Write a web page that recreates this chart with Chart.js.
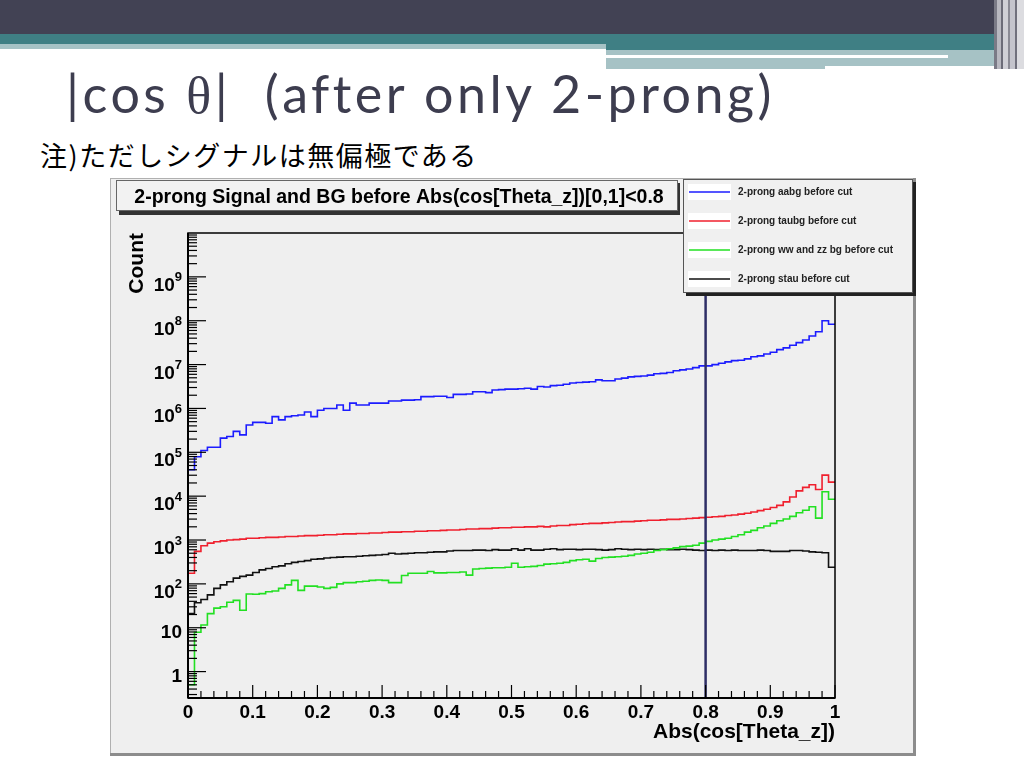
<!DOCTYPE html>
<html>
<head>
<meta charset="utf-8">
<script src="https://cdn.jsdelivr.net/npm/chart.js@4.4.1/dist/chart.umd.min.js"></script>
<style>
  body { margin: 0; width: 1024px; height: 768px; background: #fff; position: relative; overflow: hidden; }
  .deco { position: absolute; }
  .title {
    position: absolute; left: 66px; top: 63px; margin: 0;
    font-family: Lato, "Open Sans", sans-serif; font-weight: normal; font-size: 52px; line-height: 60px;
    letter-spacing: 3.5px; color: #3d3d4f; white-space: pre;
  }
  .title .th { font-family: "Liberation Serif", "DejaVu Serif", serif; }
  .note {
    position: absolute; left: 40px; top: 140px; margin: 0;
    font-family: "Noto Sans CJK JP", sans-serif; font-size: 27px; line-height: 30px;
    letter-spacing: 1.5px; color: #000;
  }
  #wrap { position: absolute; left: 110px; top: 178px; width: 806px; height: 578px; }
</style>
</head>
<body>
<div class="deco" style="left:0;top:0;width:1024px;height:34px;background:#424254"></div>
<div class="deco" style="left:0;top:34px;width:1024px;height:10px;background:#3f7f84"></div>
<div class="deco" style="left:0;top:44px;width:606px;height:5px;background:#a6c2c5"></div>
<div class="deco" style="left:606px;top:44px;width:418px;height:6px;background:#3f7f84"></div>
<div class="deco" style="left:606px;top:50px;width:400px;height:16px;background:#a6c2c5"></div>
<div class="deco" style="left:606px;top:55px;width:342px;height:3px;background:#fff"></div>
<div class="deco" style="left:606px;top:66px;width:219px;height:3px;background:#a6c2c5"></div>
<div class="deco" style="left:994px;top:0;width:30px;height:69px;background:linear-gradient(90deg,#7a7a86 0,#7a7a86 3px,#b8b8c0 3px,#b8b8c0 7px,#6c6c78 7px,#6c6c78 9px,#d0d0d6 9px,#d0d0d6 14px,#8a8a94 14px,#8a8a94 16px,#c4c4cc 16px,#c4c4cc 21px,#70707c 21px,#70707c 23px,#dcdce0 23px)"></div>

<h1 class="title">|cos <span class="th">θ</span>|  (after only 2-prong)</h1>
<p class="note">注)ただしシグナルは無偏極である</p>
<div id="wrap"><canvas id="hist" width="806" height="578"></canvas></div>

<script>
// histogram: 100 bins of |cos(theta_z)| from 0 to 1
const binWidth = 0.01;
const binEdges = Array.from({ length: 101 }, (_, i) => i * binWidth);

const aabgCounts = [
  4.0e4, 7.9e4, 1.1e5, 1.3e5, 1.3e5, 2.1e5, 2.3e5, 3.0e5, 2.5e5, 4.2e5,
  4.8e5, 4.8e5, 4.6e5, 6.5e5, 5.5e5, 6.5e5, 6.8e5, 7.1e5, 8.3e5, 6.5e5,
  9.1e5, 1.0e6, 1.0e6, 1.2e6, 9.1e5, 1.32e6, 1.2e6, 1.2e6, 1.32e6, 1.32e6,
  1.32e6, 1.48e6, 1.48e6, 1.55e6, 1.55e6, 1.58e6, 1.86e6, 1.86e6, 1.9e6, 1.9e6,
  1.78e6, 2.09e6, 2.09e6, 2.14e6, 2.4e6, 2.4e6, 2.29e6, 2.63e6, 2.69e6, 2.75e6,
  2.75e6, 2.82e6, 2.88e6, 2.75e6, 3.16e6, 3.09e6, 3.31e6, 3.39e6, 3.55e6, 3.8e6,
  3.89e6, 3.98e6, 4.07e6, 4.47e6, 4.27e6, 4.27e6, 4.68e6, 4.9e6, 5.25e6, 5.37e6,
  5.5e6, 5.75e6, 6.17e6, 6.31e6, 6.61e6, 7.24e6, 7.59e6, 7.94e6, 8.51e6, 9.33e6,
  9.33e6, 1.0e7, 1.07e7, 1.15e7, 1.23e7, 1.26e7, 1.35e7, 1.51e7, 1.58e7, 1.74e7,
  1.91e7, 2.19e7, 2.4e7, 2.75e7, 3.16e7, 3.63e7, 4.47e7, 5.62e7, 1.0e8, 8.3e7
];
const taubgCounts = [
  174, 550, 741, 851, 912, 955, 1000, 1023, 1047, 1096,
  1096, 1122, 1148, 1148, 1175, 1202, 1202, 1230, 1259, 1259,
  1288, 1318, 1318, 1349, 1380, 1380, 1413, 1413, 1445, 1445,
  1479, 1514, 1514, 1549, 1549, 1585, 1585, 1622, 1622, 1660,
  1698, 1698, 1738, 1778, 1778, 1820, 1820, 1862, 1905, 1905,
  1950, 1950, 1995, 1995, 2042, 1995, 2089, 2138, 2138, 2239,
  2291, 2344, 2399, 2399, 2455, 2512, 2570, 2630, 2630, 2692,
  2754, 2818, 2818, 2884, 2951, 2951, 3020, 3090, 3162, 3236,
  3311, 3388, 3467, 3631, 3715, 3890, 4074, 4365, 4677, 5012,
  5495, 6166, 7413, 9550, 13180, 15850, 18200, 14130, 30200, 20890
];
const wwzzCounts = [
  0.5, 7.9, 11.5, 21, 28, 30, 38, 42, 25, 59,
  58, 60, 66, 69, 79, 95, 120, 71, 89, 89,
  85, 79, 83, 100, 107, 107, 112, 115, 120, 123,
  120, 107, 107, 155, 174, 174, 174, 191, 178, 178,
  182, 182, 186, 158, 219, 224, 229, 234, 234, 240,
  295, 240, 245, 251, 263, 282, 288, 295, 309, 339,
  355, 363, 331, 380, 398, 407, 417, 427, 447, 479,
  501, 525, 575, 603, 631, 661, 708, 724, 759, 851,
  933, 1000, 1047, 1096, 1202, 1318, 1514, 1660, 1905, 2089,
  2399, 2754, 3020, 3467, 4169, 4786, 5754, 3162, 12590, 8511
];
const stauCounts = [
  21, 37, 44, 56, 79, 95, 112, 135, 148, 158,
  182, 209, 224, 245, 257, 288, 309, 324, 339, 363,
  372, 389, 398, 407, 417, 417, 427, 437, 447, 457,
  468, 501, 479, 490, 501, 513, 513, 525, 537, 537,
  562, 575, 575, 575, 589, 589, 575, 603, 589, 589,
  631, 589, 631, 589, 589, 617, 631, 603, 617, 617,
  603, 617, 617, 603, 589, 603, 631, 617, 603, 617,
  603, 617, 603, 617, 603, 603, 617, 603, 589, 575,
  589, 575, 589, 575, 589, 575, 575, 575, 589, 575,
  550, 550, 550, 575, 575, 562, 537, 525, 513, 240
];

const seriesNames = [
  '2-prong aabg before cut',
  '2-prong taubg before cut',
  '2-prong ww and zz bg before cut',
  '2-prong stau before cut'
];
const seriesColors = ['#1c1cff', '#f0202e', '#22e022', '#111111'];

const xTickValues = [0, 0.1, 0.2, 0.3, 0.4, 0.5, 0.6, 0.7, 0.8, 0.9, 1];
const xTickLabels = ['0', '0.1', '0.2', '0.3', '0.4', '0.5', '0.6', '0.7', '0.8', '0.9', '1'];
const yTickPowers = [0, 1, 2, 3, 4, 5, 6, 7, 8, 9];
const yMin = 0.25;
const yMax = 1e10;
const cutValue = 0.8;

const histTitle = '2-prong Signal and BG before Abs(cos[Theta_z])[0,1]<0.8';
const xTitle = 'Abs(cos[Theta_z])';
const yTitle = 'Count';

const FONT = '"Liberation Sans", Arial, Helvetica, sans-serif';

// step outline: value of bin i from its low edge to the next edge
function histPoints(counts) {
  const pts = counts.map((c, i) => ({ x: binEdges[i], y: c }));
  pts.push({ x: binEdges[counts.length], y: counts[counts.length - 1] });
  return pts;
}

function hLine(ctx, x1, y1, x2, y2) {
  ctx.beginPath();
  ctx.moveTo(x1, y1);
  ctx.lineTo(x2, y2);
  ctx.stroke();
}

const rootStyle = {
  id: 'rootStyle',
  beforeDraw(chart) {
    const { ctx, width, height } = chart;
    ctx.save();
    ctx.fillStyle = '#efefef';
    ctx.fillRect(0, 0, width, height);
    ctx.fillStyle = '#b0b0b0';
    ctx.fillRect(0, 0, width, 1);
    ctx.fillRect(0, 0, 1, height);
    ctx.fillStyle = '#8c8c8c';
    ctx.fillRect(width - 3, 0, 3, height);
    ctx.fillRect(0, height - 3, width, 3);
    ctx.restore();
  },
  afterDatasetsDraw(chart) {
    const { ctx, chartArea: a, scales: { x, y } } = chart;
    ctx.save();

    // cut position
    const cx = x.getPixelForValue(cutValue);
    ctx.strokeStyle = '#2e2e66';
    ctx.lineWidth = 2.5;
    hLine(ctx, cx, a.top, cx, a.bottom);

    // frame
    ctx.strokeStyle = '#000';
    ctx.lineWidth = 1.5;
    ctx.strokeRect(a.left, a.top, a.right - a.left, a.bottom - a.top);
    ctx.lineWidth = 2;
    hLine(ctx, a.left, a.top, a.left, a.bottom);
    hLine(ctx, a.left, a.bottom, a.right, a.bottom);

    // x ticks, major every 0.1 and minor every 0.02
    ctx.lineWidth = 1.2;
    for (let k = 0; k <= 50; k++) {
      const px = x.getPixelForValue(k / 50);
      hLine(ctx, px, a.bottom, px, a.bottom - (k % 5 === 0 ? 13 : 7));
    }

    // y ticks, log decades
    for (let d = -1; d <= 9; d++) {
      for (let m = 1; m <= 9; m++) {
        const v = m * Math.pow(10, d);
        if (v < y.min || v > y.max) continue;
        const py = y.getPixelForValue(v);
        hLine(ctx, a.left, py, a.left + (m === 1 ? 18 : 9), py);
      }
    }

    // y labels with raised exponents
    ctx.fillStyle = '#000';
    ctx.textBaseline = 'alphabetic';
    const right = a.left - 6;
    yTickPowers.forEach(p => {
      const py = y.getPixelForValue(Math.pow(10, p));
      if (p < 2) {
        ctx.font = 'bold 19px ' + FONT;
        ctx.textAlign = 'right';
        ctx.fillText(p === 0 ? '1' : '10', right, py + 10);
      } else {
        ctx.font = 'bold 13px ' + FONT;
        ctx.textAlign = 'right';
        ctx.fillText(String(p), right, py + 4.5);
        const ew = ctx.measureText(String(p)).width;
        ctx.font = 'bold 19px ' + FONT;
        ctx.fillText('10', right - ew, py + 14);
      }
    });
    ctx.restore();
  },
  afterDraw(chart) {
    const { ctx } = chart;
    ctx.save();

    // title box
    ctx.fillStyle = '#333';
    ctx.fillRect(9, 5, 561, 32);
    ctx.fillStyle = '#f2f2f2';
    ctx.fillRect(6, 2, 562, 31);
    ctx.strokeStyle = '#666';
    ctx.lineWidth = 1;
    ctx.strokeRect(6.5, 2.5, 561, 30);
    ctx.fillStyle = '#000';
    ctx.font = 'bold 19.5px ' + FONT;
    ctx.textAlign = 'center';
    ctx.textBaseline = 'middle';
    ctx.fillText(histTitle, 289, 20);

    // legend box
    const lx = 573, ly = 1, lw = 230, lh = 114;
    ctx.fillStyle = '#222';
    ctx.fillRect(lx + 3, ly + 3, lw, lh);
    ctx.fillStyle = '#f0f0f0';
    ctx.fillRect(lx, ly, lw, lh);
    ctx.strokeStyle = '#555';
    ctx.strokeRect(lx + 0.5, ly + 0.5, lw - 1, lh - 1);
    ctx.font = 'bold 10px ' + FONT;
    ctx.textAlign = 'left';
    chart.data.datasets.forEach((ds, i) => {
      const ey = ly + 13 + i * 29;
      ctx.fillStyle = '#fff';
      ctx.fillRect(lx + 5, ey - 8, 43, 16);
      ctx.strokeStyle = ds.borderColor;
      ctx.lineWidth = 1.3;
      hLine(ctx, lx + 6, ey, lx + 47, ey);
      ctx.fillStyle = '#222';
      ctx.fillText(ds.label, lx + 55, ey);
    });
    ctx.restore();
  }
};

const countSeries = [aabgCounts, taubgCounts, wwzzCounts, stauCounts];

new Chart(document.getElementById('hist'), {
  type: 'line',
  data: {
    datasets: countSeries.map((counts, i) => ({
      label: seriesNames[i],
      data: histPoints(counts),
      borderColor: seriesColors[i],
      borderWidth: 1.6,
      pointRadius: 0,
      stepped: 'before',
      fill: false
    }))
  },
  options: {
    responsive: false,
    animation: false,
    layout: { padding: { top: 55, right: 81, bottom: 0, left: 0 } },
    plugins: {
      legend: { display: false },
      title: { display: false },
      tooltip: { enabled: false }
    },
    scales: {
      x: {
        type: 'linear',
        min: 0,
        max: 1,
        grid: { display: false, drawTicks: false },
        border: { display: false },
        afterBuildTicks: s => { s.ticks = xTickValues.map(v => ({ value: v })); },
        afterFit: s => { s.height = 58; s.paddingLeft = 0; s.paddingRight = 0; },
        ticks: {
          autoSkip: false,
          maxRotation: 0,
          padding: 3,
          color: '#000',
          font: { family: FONT, weight: 'bold', size: 19 },
          callback: (v, i) => xTickLabels[i]
        },
        title: {
          display: true,
          text: xTitle,
          align: 'end',
          color: '#000',
          font: { family: FONT, weight: 'bold', size: 21 },
          padding: { top: 0, bottom: 11 }
        }
      },
      y: {
        type: 'logarithmic',
        min: yMin,
        max: yMax,
        grid: { display: false, drawTicks: false },
        border: { display: false },
        ticks: { display: false },
        afterFit: s => { s.width = 78; s.paddingTop = 0; s.paddingBottom = 0; },
        title: {
          display: true,
          text: yTitle,
          align: 'end',
          color: '#000',
          font: { family: FONT, weight: 'bold', size: 21 },
          padding: { top: 15, bottom: 0 }
        }
      }
    }
  },
  plugins: [rootStyle]
});
</script>
</body>
</html>
